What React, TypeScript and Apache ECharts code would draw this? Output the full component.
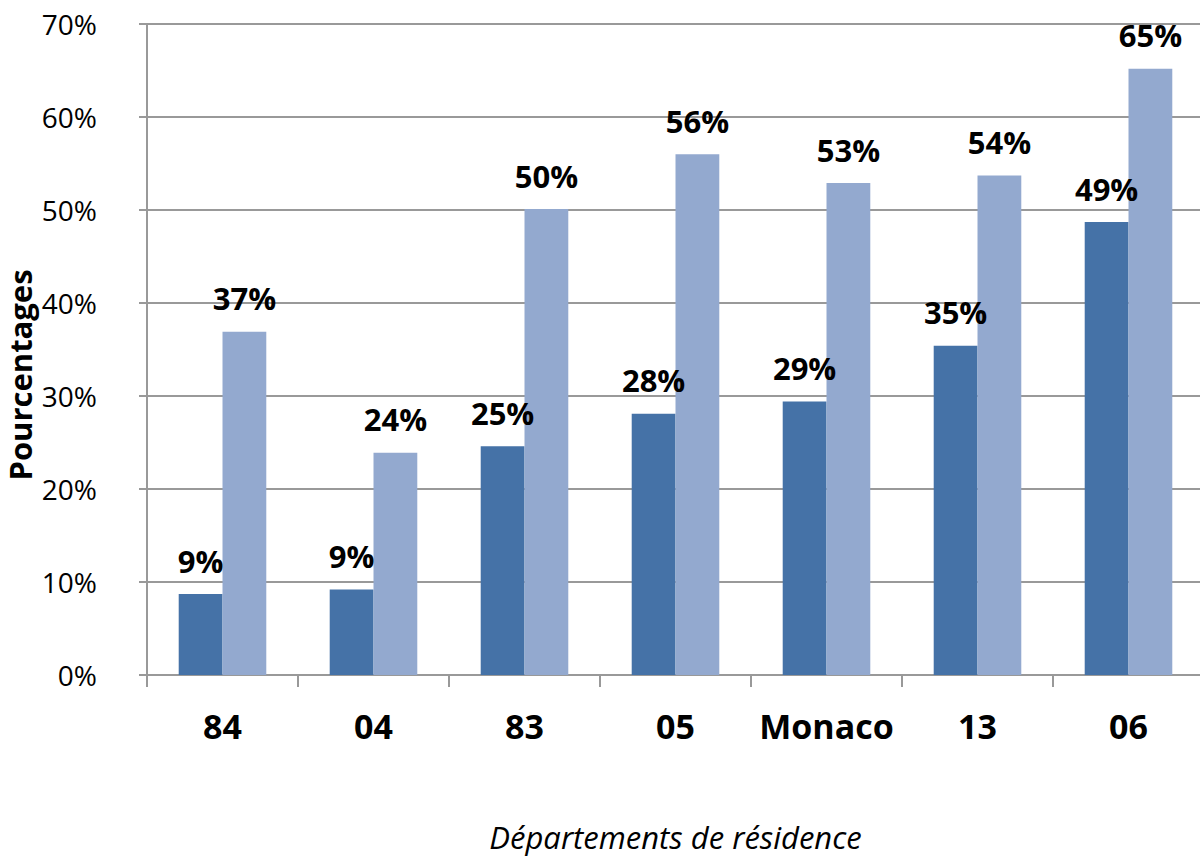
import React, { useEffect, useRef } from "react";
import * as echarts from "echarts";

const categories = ["84", "04", "83", "05", "Monaco", "13", "06"];
const seriesDark = [8.7, 9.2, 24.6, 28.1, 29.4, 35.4, 48.7];
const seriesLight = [36.9, 23.9, 50.1, 56.0, 52.9, 53.7, 65.2];
const yTicks = [0, 10, 20, 30, 40, 50, 60, 70];
const yAxisTitle = "Pourcentages";
const xAxisTitle = "Départements de résidence";

const FONT = "'Open Sans', 'Noto Sans', sans-serif";

export default function App() {
  const ref = useRef<HTMLDivElement>(null);
  useEffect(() => {
    const chart = echarts.init(ref.current!, null, { renderer: "svg" });
    const label = {
      show: true,
      position: "top" as const,
      distance: 18,
      fontFamily: FONT,
      fontWeight: "bold" as const,
      fontSize: 31,
      color: "#000",
      formatter: (p: any) => Math.round(p.value) + "%",
    };
    chart.setOption({
      animation: false,
      grid: {
        left: 147,
        top: 24,
        width: 1057,
        bottom: 186,
        containLabel: false,
        outerBoundsMode: "none",
      },
      graphic: [
        {
          type: "text",
          x: 20,
          y: 375,
          rotation: Math.PI / 2,
          style: {
            text: yAxisTitle,
            fontFamily: FONT,
            fontWeight: "bold",
            fontSize: 31,
            fill: "#000",
            align: "center",
            verticalAlign: "middle",
          },
        },
      ],
      xAxis: {
        type: "category",
        data: categories,
        axisLine: { lineStyle: { color: "#999", width: 2 } },
        axisTick: { show: true, interval: 0, length: 12, lineStyle: { color: "#999", width: 2 } },
        axisLabel: { interval: 0, fontFamily: FONT, fontWeight: "bold", fontSize: 34, color: "#000", margin: 34 },
        name: xAxisTitle,
        nameLocation: "middle",
        nameGap: 146,
        nameTextStyle: { fontFamily: FONT, fontStyle: "italic", fontSize: 31, color: "#000" },
      },
      yAxis: {
        type: "value",
        min: yTicks[0],
        max: yTicks[yTicks.length - 1],
        interval: 10,
        axisLine: { show: true, lineStyle: { color: "#999", width: 2 } },
        axisTick: { show: true, length: 8, lineStyle: { color: "#999", width: 2 } },
        splitLine: { show: true, lineStyle: { color: "#999", width: 2 } },
        axisLabel: { fontFamily: FONT, fontSize: 28, color: "#000", margin: 50, formatter: "{value}%" },
      },
      series: [
        {
          type: "bar",
          data: seriesDark,
          barGap: "0%",
          barCategoryGap: "42%",
          itemStyle: { color: "#4572A7" },
          label,
        },
        {
          type: "bar",
          data: seriesLight,
          itemStyle: { color: "#93A9CF" },
          label,
        },
      ],
    });
    return () => chart.dispose();
  }, []);
  return (
    <div
      ref={ref}
      style={{ position: "fixed", left: 0, top: 0, width: 1200, height: 861, background: "#fff" }}
    />
  );
}
